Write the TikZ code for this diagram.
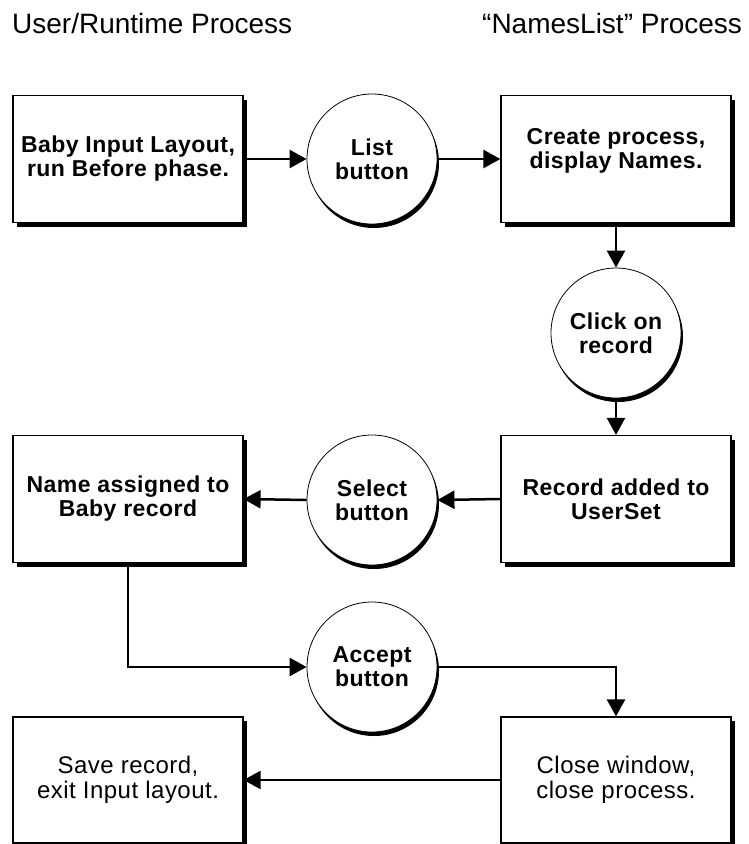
\documentclass[tikz,border=0pt]{standalone}
\usepackage{fontspec}
\setmainfont{Liberation Sans}
\newfontfamily\bxfont{Liberation Sans}[LetterSpace=2]
\usetikzlibrary{arrows.meta,shadows}
\begin{document}
\begin{tikzpicture}[x=1pt,y=-1pt,
  title/.style={anchor=base west,inner sep=0pt,font=\fontsize{28}{30}\selectfont},
  proc/.style={draw,line width=1.2pt,fill=white,minimum width=230pt,minimum height=127pt,
    align=center,inner sep=0pt,font=\bxfont\bfseries\fontsize{23}{24}\selectfont,
    drop shadow={shadow xshift=4pt,shadow yshift=-4pt,opacity=1,fill=black}},
  procreg/.style={proc,font=\bxfont\fontsize{24}{25}\selectfont},
  btn/.style={circle,draw,line width=0.8pt,fill=white,minimum size=130pt,inner sep=0pt,
    align=center,font=\bxfont\bfseries\fontsize{23}{24}\selectfont,
    drop shadow={shadow xshift=2pt,shadow yshift=-4pt,opacity=1,fill=black}},
  conn/.style={line width=2.5pt,-{Triangle[length=17pt,width=18pt]}},
  plain/.style={line width=2.5pt}
]
\useasboundingbox (0,0) rectangle (749,844);

\node[title] (t1) at (12,33) {User/Runtime Process};
\node[title] (t2) at (482,33) {“NamesList” Process};

\node[proc] (b1) at (128,159) {Baby Input Layout,\\run Before phase.};
\node[btn] (list) at (372,159) {List\\button};
\node[proc] (b2) at (616,159) {};
\node[align=center,inner sep=0pt,font=\bxfont\bfseries\fontsize{23}{24}\selectfont] (b2t) at (616,151) {Create process,\\display Names.};
\node[btn] (click) at (616,333) {Click on\\record};
\node[proc] (b3) at (616,499) {Record added to\\UserSet};
\node[btn] (sel) at (372,500) {Select\\button};
\node[proc] (b4) at (128,499) {Name assigned to\\Baby record};
\node[btn] (acc) at (372,667) {Accept\\button};
\node[procreg,minimum height=126pt] (b5) at (616,780) {Close window,\\close process.};
\node[procreg,minimum height=126pt] (b6) at (128,780) {Save record,\\exit Input layout.};

\draw[conn] (b1) -- (list);
\draw[conn] (list) -- (b2);
\draw[conn] (b2) -- (click);
\draw[conn] (click) -- (b3);
\draw[conn] (b3.west) -- (sel.east);
\draw[conn] (sel.west) -- (b4.east);
\draw[conn] (b4.south) |- (acc.west);
\draw[conn] (acc.east) -| (b5.north);
\draw[conn] (b5.west) -- (b6.east);
\end{tikzpicture}
\end{document}
